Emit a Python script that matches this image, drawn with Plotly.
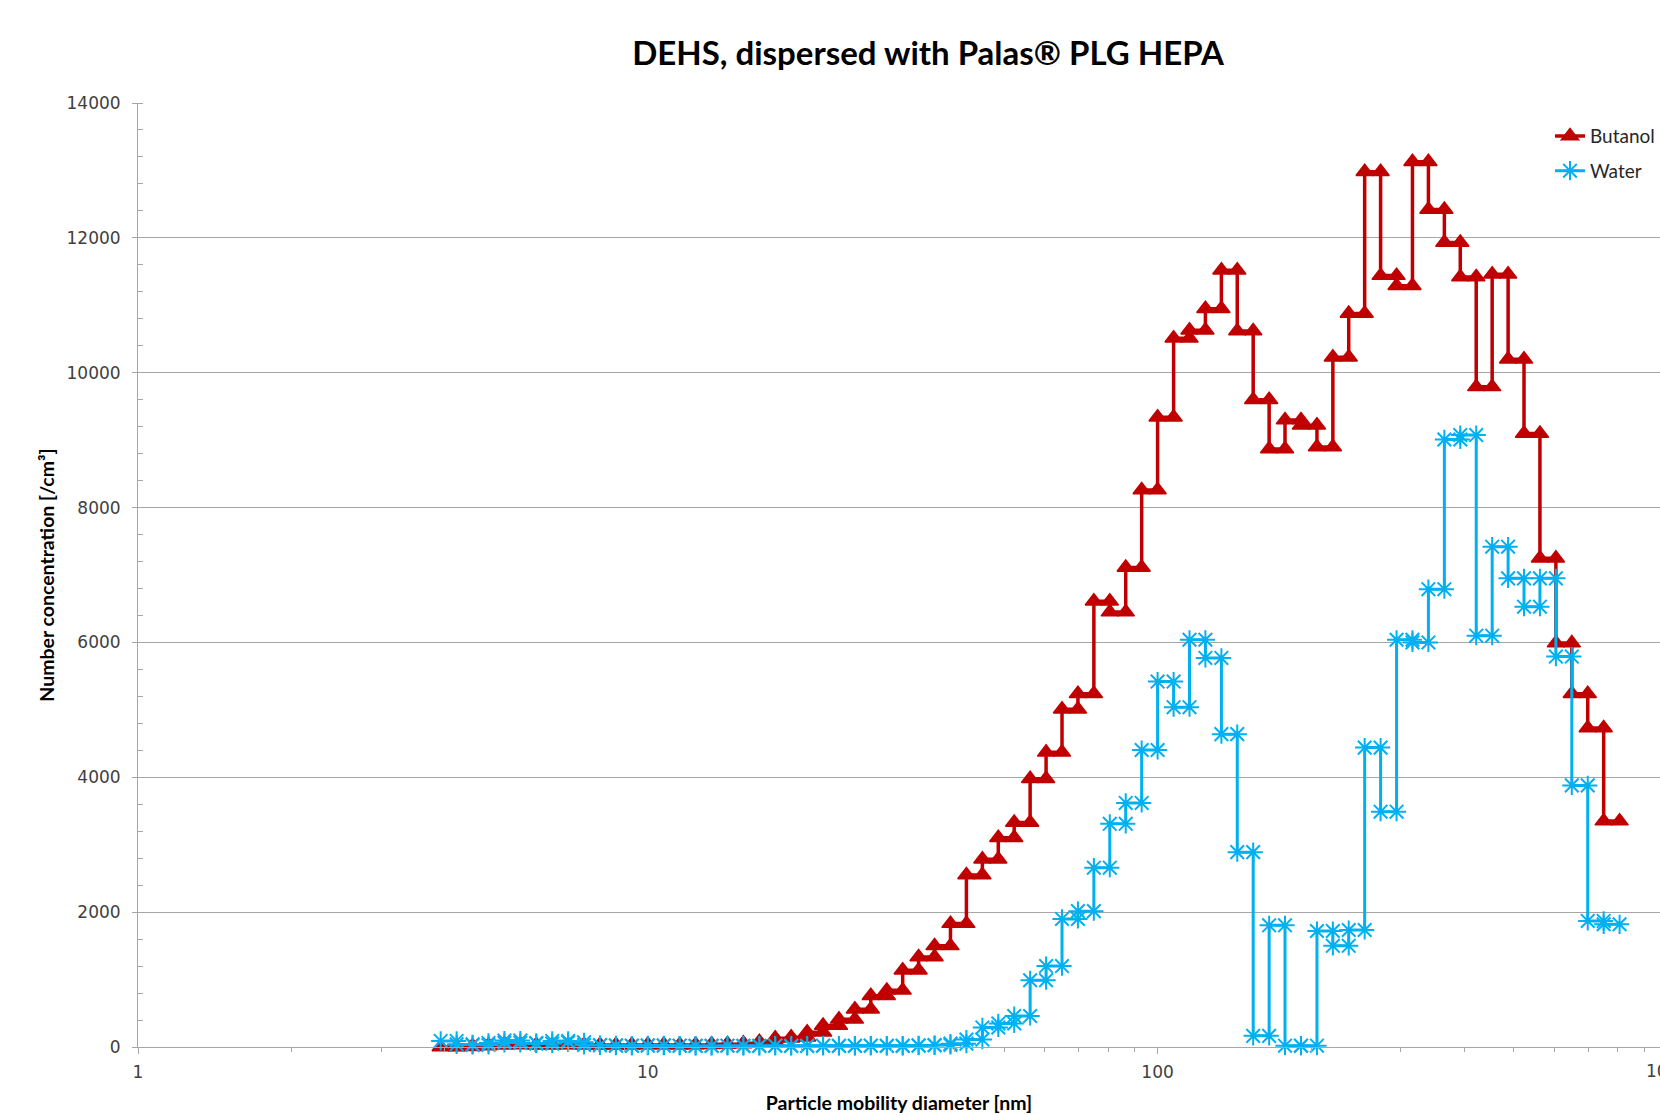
import plotly.graph_objects as go

# Channel boundaries of the mobility-size spectrometer [nm]
bin_edges = [
    3.924, 4.217, 4.532, 4.870, 5.233, 5.623, 6.043, 6.494, 6.978, 7.499, 8.058, 8.660, 9.306,
    10.00, 10.75, 11.55, 12.41, 13.34, 14.33, 15.40, 16.55, 17.78, 19.11, 20.54, 22.07,
    23.71, 25.48, 27.38, 29.43, 31.62, 33.98, 36.52, 39.24, 42.17, 45.32, 48.70, 52.33,
    56.23, 60.43, 64.94, 69.78, 74.99, 80.58, 86.60, 93.06,
    100.0, 107.5, 115.5, 124.1, 133.4, 143.3, 154.0, 165.5, 177.8, 191.1, 205.4, 220.7,
    237.1, 254.8, 273.8, 294.3, 316.2, 339.8, 365.2, 392.4, 421.7, 453.2, 487.0, 523.3,
    562.3, 604.3, 649.4, 697.8, 749.9, 805.8,
]

# Number concentration per channel [/cm³]
butanol = [
    0, 5, 15, 25, 40, 30, 25, 35, 30, 30, 25, 30, 30, 35, 30, 30, 35, 40, 45,
    55, 80, 130, 145, 220, 320, 410, 560, 760, 840, 1140, 1335, 1500, 1830,
    2550, 2785, 3105, 3330, 3980, 4370, 5010, 5240, 6610, 6450, 7110, 8260, 9340,
    10510, 10630, 10950, 11520, 10620, 9600, 8870, 9300, 9220, 8900, 10230, 10880,
    12980, 11440, 11290, 13130, 12420, 11930, 11420, 9790, 11460, 10200, 9100,
    7250, 5990, 5240, 4730, 3350,
]
water = [
    90, 40, 30, 60, 95, 60, 50, 90, 70, 30, 25, 20, 20, 25, 20, 20, 15, 20, 20,
    15, 20, 20, 15, 20, 20, 15, 20, 20, 15, 20, 25, 30, 50,
    110, 290, 350, 460, 990, 1200, 1900, 2015, 2660, 3310, 3620, 4405, 5420,
    5040, 6040, 5770, 4640, 2890, 165, 1805, 20, 20, 1720, 1500, 1735,
    4440, 3490, 6040, 6000, 6790, 9010, 9075, 6100, 7420, 6950, 6530,
    6950, 5790, 3880, 1870, 1820,
]

x_ticks = [1, 10, 100]
x_tick_text = ["1", "10", "100"]
y_ticks = [0, 2000, 4000, 6000, 8000, 10000, 12000, 14000]

series = [
    ("Butanol", butanol, "#C00000", 3.5, dict(symbol="triangle-up", size=15,
                                              line=dict(color="#C00000", width=1.5))),
    ("Water", water, "#00B0F0", 3, dict(symbol="asterisk-open", size=16,
                                        line=dict(color="#00B0F0", width=2))),
]


def step_points(edges, values):
    """Each channel is drawn as a flat segment from its lower to its upper boundary."""
    xs, ys = [], []
    for i, v in enumerate(values):
        xs += [edges[i], edges[i + 1]]
        ys += [v, v]
    return xs, ys


fig = go.Figure()
for name, vals, color, lw, marker in series:
    xs, ys = step_points(bin_edges, vals)
    fig.add_trace(go.Scatter(
        x=xs, y=ys, name=name, legendgroup=name,
        mode="lines+markers",
        line=dict(color=color, width=lw),
        marker=dict(color=color, **marker),
        cliponaxis=False,
    ))

grey = "#A6A6A6"
tick_font = dict(family="DejaVu Sans", size=17, color="#404040")
label_font = dict(family="Lato", size=19.5, color="#000000", weight="bold")

fig.update_layout(
    width=1660, height=1115, autosize=False,
    margin=dict(l=138, r=0, t=103, b=68, pad=0),
    paper_bgcolor="white", plot_bgcolor="white",
    title=dict(text="DEHS, dispersed with Palas® PLG HEPA",
               font=dict(family="Lato", size=33, color="#000000", weight="bold"),
               x=928 / 1660, xref="container", xanchor="center",
               y=1 - 53 / 1115, yref="container", yanchor="middle"),
    xaxis=dict(
        type="log", range=[0, 2.9855],
        tickmode="array", tickvals=x_ticks, ticktext=x_tick_text,
        ticks="outside", ticklen=6, tickcolor=grey, tickwidth=1,
        showline=True, linecolor=grey, linewidth=1,
        showgrid=False, zeroline=False,
        tickfont=tick_font, ticklabelstandoff=4,
        minor=dict(ticks="outside", ticklen=4, tickcolor=grey, showgrid=False,
                   tickmode="array",
                   tickvals=[m * 10 ** e for e in range(3) for m in range(2, 10)]),
        title=dict(text="Particle mobility diameter [nm]", font=label_font, standoff=14),
    ),
    yaxis=dict(
        range=[0, 14000], tickmode="array", tickvals=y_ticks, tickformat="d",
        ticks="outside", ticklen=5, tickcolor=grey, tickwidth=1,
        showline=True, linecolor=grey, linewidth=1,
        showgrid=True, gridcolor=grey, gridwidth=1, zeroline=False,
        tickfont=tick_font, ticklabelstandoff=8,
        minor=dict(ticks="inside", ticklen=5, tickcolor=grey, dtick=400, showgrid=False),
        title=dict(text="Number concentration [/cm³]", font=label_font, standoff=6),
    ),
    legend=dict(x=0.928, y=0.985, xanchor="left", yanchor="top",
                bgcolor="rgba(0,0,0,0)", tracegroupgap=7,
                font=dict(family="Lato", size=19, color="#262626")),
    annotations=[dict(text="1000", xref="paper", yref="paper", x=(1667 - 138) / 1522, y=0,
                      xanchor="center", yanchor="middle", yshift=-24, showarrow=False,
                      font=tick_font)],
)

fig.write_html("out.html")
